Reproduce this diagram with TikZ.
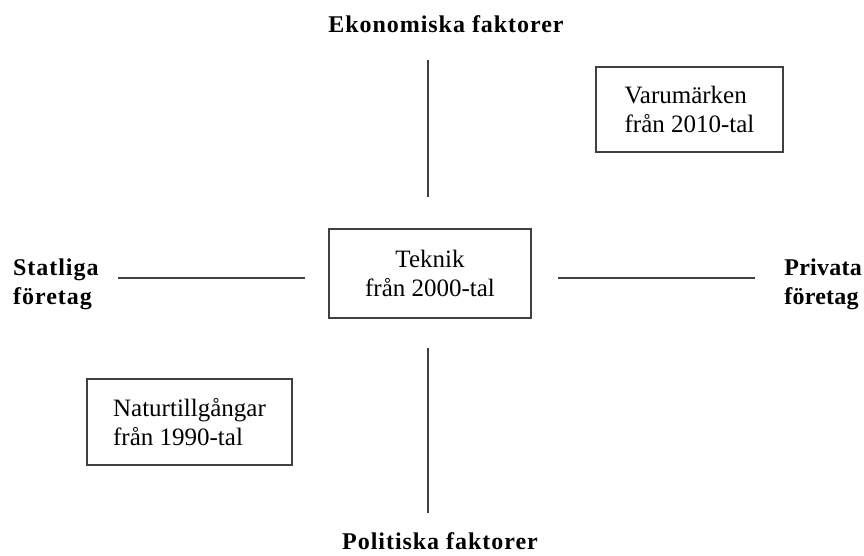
\documentclass[tikz,border=0pt]{standalone}
\usepackage{fontspec}
\setmainfont{Liberation Serif}
\newfontfamily\labelfont[LetterSpace=4]{Liberation Serif}
\newfontfamily\labelfonttight[LetterSpace=1]{Liberation Serif}
\begin{document}
\begin{tikzpicture}[x=1pt,y=-1pt,
  axis/.style={draw=black!75, line width=2pt},
  era/.style={draw=black!75, line width=2pt, rectangle, inner sep=0pt,
    font=\fontsize{25}{29}\selectfont},
  factor/.style={inner sep=0pt, font=\labelfont\bfseries\fontsize{24}{29}\selectfont}]
\useasboundingbox (0,0) rectangle (864,555);
% era boxes
\node[era, align=center, minimum width=202pt, minimum height=89pt] (teknik) at (430,273.5) {Teknik\\från 2000-tal};
\node[era, align=left, minimum width=187pt, minimum height=85pt] (varum) at (689.5,109.5) {Varumärken\\från 2010-tal};
\node[era, align=left, minimum width=205pt, minimum height=86pt] (natur) at (189.5,422) {Naturtillgångar\\från 1990-tal};
% factor labels
\node[factor, anchor=base] (eko) at (446,32) {Ekonomiska faktorer};
\node[factor, anchor=base] (pol) at (440,549) {Politiska faktorer};
\node[factor, align=left, anchor=base west] (stat) at (13,304) {Statliga\\företag};
\node[factor, font=\labelfonttight\bfseries\fontsize{24}{29}\selectfont, align=left, anchor=base east] (priv) at (862,304) {Privata\\företag};
% axes
\coordinate (nA) at (428,60);
\coordinate (nB) at (428,197);
\coordinate (sA) at (428,348);
\coordinate (sB) at (428,513);
\coordinate (wA) at (118,278);
\coordinate (wB) at (305,278);
\coordinate (eA) at (558,278);
\coordinate (eB) at (755,278);
\draw[axis] (nA) -- (nB);
\draw[axis] (sA) -- (sB);
\draw[axis] (wA) -- (wB);
\draw[axis] (eA) -- (eB);
\end{tikzpicture}
\end{document}
